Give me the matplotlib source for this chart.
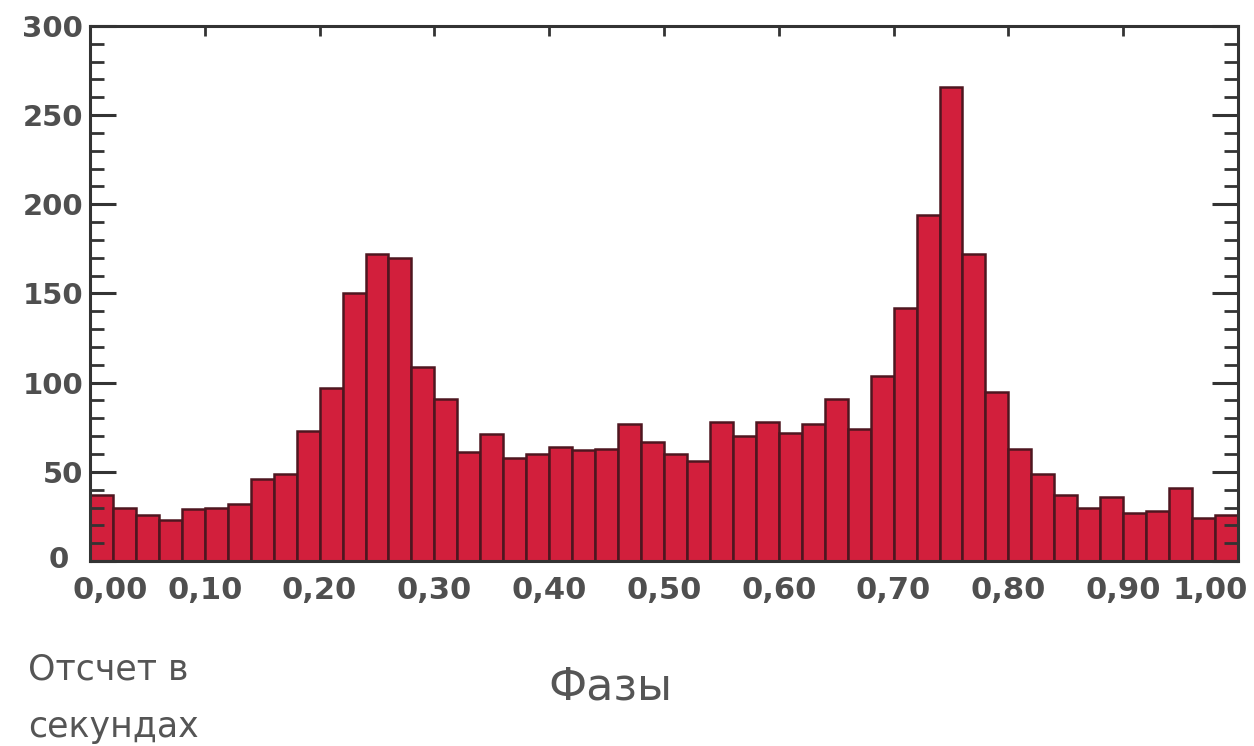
import numpy as np
import matplotlib
matplotlib.use("Agg")
import matplotlib.pyplot as plt
import matplotlib.transforms as mtransforms
from matplotlib.ticker import MultipleLocator

# histogram of phases, 50 bins of width 0.02
bin_left = [i / 50 for i in range(50)]
counts = [37, 30, 26, 23, 29, 30, 32, 46, 49, 73,
          97, 150, 172, 170, 109, 91, 61, 71, 58, 60,
          64, 62, 63, 77, 67, 60, 56, 78, 70, 78,
          72, 77, 91, 74, 104, 142, 194, 266, 172, 95,
          63, 49, 37, 30, 36, 27, 28, 41, 24, 26]
x_ticks = [0.0, 0.1, 0.2, 0.3, 0.4, 0.5, 0.6, 0.7, 0.8, 0.9, 1.0]
x_labels = ["0,00", "0,10", "0,20", "0,30", "0,40", "0,50",
            "0,60", "0,70", "0,80", "0,90", "1,00"]
y_ticks = [0, 50, 100, 150, 200, 250, 300]

fig = plt.figure(figsize=(12.54, 7.46), dpi=100)
ax = fig.add_axes([90 / 1254, 1 - 561 / 746, 1148 / 1254, 535 / 746])

ax.bar(bin_left, counts, width=0.02, align="edge",
       color="#d21f3c", edgecolor="#4e1620", linewidth=1.8)

ax.set_xlim(0, 1)
ax.set_ylim(0, 300)

ax.set_xticks(x_ticks)
ax.set_xticklabels(x_labels)
ax.set_yticks(y_ticks)
ax.yaxis.set_minor_locator(MultipleLocator(10))

ax.tick_params(axis="x", which="major", direction="in", bottom=False, top=True,
               length=7, width=2, color="#333333", pad=11,
               labelsize=22, labelcolor="#4f4f4f")
ax.tick_params(axis="y", which="major", direction="in", left=True, right=True,
               length=19, width=2.2, color="#333333", pad=5,
               labelsize=21, labelcolor="#4f4f4f")
ax.tick_params(axis="y", which="minor", direction="in", left=True, right=True,
               length=10, width=2, color="#333333")

for lab in ax.get_xticklabels() + ax.get_yticklabels():
    lab.set_fontweight("bold")

# first / last x labels sit inside the frame, "0" sits a bit lower-left
xl = ax.get_xticklabels()
xl[0].set_transform(xl[0].get_transform() + mtransforms.ScaledTranslation(0.2, 0, fig.dpi_scale_trans))
xl[-1].set_transform(xl[-1].get_transform() + mtransforms.ScaledTranslation(-0.28, 0, fig.dpi_scale_trans))
yl = ax.get_yticklabels()
yl[0].set_transform(yl[0].get_transform() + mtransforms.ScaledTranslation(-0.14, 0.04, fig.dpi_scale_trans))

for s in ax.spines.values():
    s.set_color("#333333")
    s.set_linewidth(2.2)

fig.text(28 / 1254, 1 - 670 / 746, "Отсчет в", fontsize=25, color="#555555",
         ha="left", va="center")
fig.text(28 / 1254, 1 - 727 / 746, "секундах", fontsize=25, color="#555555",
         ha="left", va="center")
fig.text(610 / 1254, 1 - 687 / 746, "Фазы", fontsize=32, color="#555555",
         ha="center", va="center")

fig.savefig("out.png", dpi=100)
